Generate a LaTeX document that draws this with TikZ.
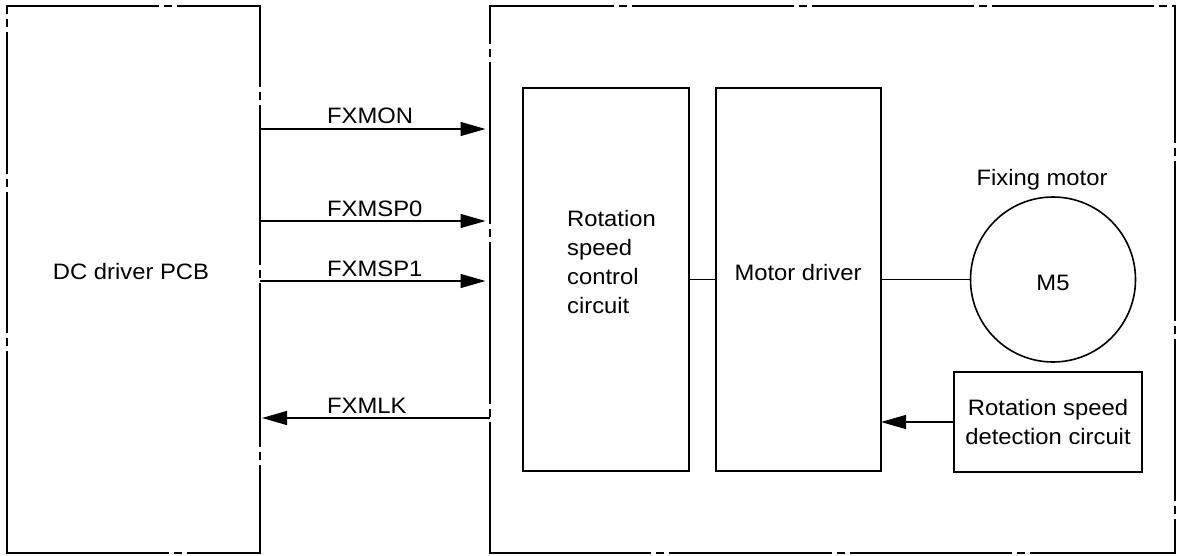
\documentclass[tikz,border=0pt]{standalone}
\usepackage{fontspec}
\setmainfont{Liberation Sans}[FakeStretch=1.067]
\usetikzlibrary{arrows.meta,calc}
\begin{document}
\begin{tikzpicture}[x=1pt,y=-1pt,
  font=\fontsize{22.3}{29}\selectfont,
  outer/.style={line width=2.2pt, line cap=rect},
  frame/.style={inner sep=0pt, outer sep=0pt},
  box/.style={draw, line width=1.9pt, inner sep=0pt, outer sep=0pt},
  wire/.style={line width=1.3pt},
  sig/.style={line width=1.3pt, -{Triangle[length=25pt,width=14pt]}},
  lbl/.style={inner sep=0pt, anchor=base west},
  plain/.style={inner sep=0pt}]
\useasboundingbox (0,0) rectangle (1177,556);

% outer frames (dash-dot)
\node[frame, minimum width=253pt, minimum height=547pt] (pcb) at (133.5,279.5) {};
\node[frame, minimum width=686pt, minimum height=547pt] (unit) at (833,279.5) {};
\node[plain] (pcbtext) at (131,272) {DC driver PCB};

\draw[outer, dash pattern=on 6.5pt off 8pt on 5pt off 8pt on 139pt off 8pt on 5pt off 8pt on 138pt off 8pt on 5pt off 8pt on 400pt]
  (pcb.north west) -- (pcb.south west);
\draw[outer, dash pattern=on 150.5pt off 8pt on 5pt off 8pt on 200pt]
  (pcb.north west) -- (pcb.north east);
\draw[outer, dash pattern=on 79.5pt off 8pt on 5pt off 8pt on 157pt off 8pt on 5pt off 8pt on 161pt off 8pt on 5pt off 8pt on 200pt]
  (pcb.north east) -- (pcb.south east);
\draw[outer, dash pattern=on 160.5pt off 8pt on 5pt off 8pt on 200pt]
  (pcb.south west) -- (pcb.south east);

\draw[outer, dash pattern=on 122.5pt off 8pt on 5pt off 8pt on 159pt off 8pt on 5pt off 8pt on 159pt off 8pt on 5pt off 8pt on 159pt off 8pt on 5pt off 8pt on 50pt]
  (unit.north west) -- ([xshift=-1pt]unit.north east);
\draw[outer, dash pattern=on 36.5pt off 8pt on 5pt off 8pt on 159pt off 8pt on 5pt off 8pt on 159pt off 8pt on 5pt off 8pt on 200pt]
  (unit.north west) -- (unit.south west);
\draw[outer, dash pattern=on 159.5pt off 8pt on 5pt off 8pt on 160pt off 8pt on 5pt off 8pt on 159pt off 8pt on 5pt off 8pt on 200pt]
  (unit.south west) -- ([xshift=-1pt]unit.south east);
\draw[outer, dash pattern=on 135.5pt off 8pt on 5pt off 8pt on 157pt off 8pt on 5pt off 8pt on 159pt off 8pt on 5pt off 8pt on 100pt]
  ([xshift=-1pt]unit.north east) -- ([xshift=-1pt]unit.south east);

% inner blocks
\node[box, minimum width=166pt, minimum height=383pt] (rsc) at (606,279.5) {};
\node[plain, align=left, anchor=west] (rsctext) at (567,262) {Rotation\\speed\\control\\circuit};
\node[box, minimum width=165pt, minimum height=383pt] (md) at (798.5,279.5) {};
\node[plain] (mdtext) at (798,273) {Motor driver};
\node[draw, circle, line width=1.6pt, minimum size=165pt, inner sep=0pt, outer sep=0pt] (motor) at (1053,279.5) {};
\node[plain] (m5) at (1053,283) {M5};
\node[plain] (fixlbl) at (1042,180) {Fixing motor};
\node[box, minimum width=188pt, minimum height=100pt, align=center] (det) at (1048,422) {Rotation speed\\detection circuit};

% connectors
\draw[wire] (rsc.east) -- (md.west);
\draw[wire] (md.east) -- (motor.west);
\draw[sig] (det.west) -- (det.west -| md.east);

\draw[sig, shorten >=4.5pt] (pcb.east |- 0,129) -- (unit.west |- 0,129);
\draw[sig, shorten >=4.5pt] (pcb.east |- 0,221) -- (unit.west |- 0,221);
\draw[sig, shorten >=4.5pt] (pcb.east |- 0,281) -- (unit.west |- 0,281);
\draw[sig, shorten >=2pt] (unit.west |- 0,418) -- (pcb.east |- 0,418);

\node[lbl] (l1) at (327,124) {FXMON};
\node[lbl] (l2) at (327,216) {FXMSP0};
\node[lbl] (l3) at (327,276) {FXMSP1};
\node[lbl] (l4) at (327,413) {FXMLK};
\end{tikzpicture}
\end{document}
